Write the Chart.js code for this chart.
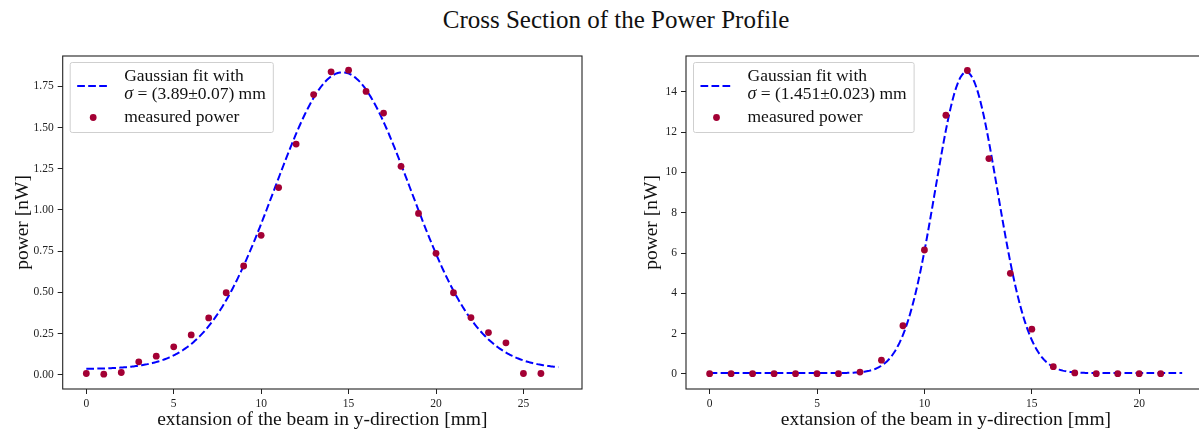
<!DOCTYPE html>
<html>
<head>
<meta charset="utf-8">
<script src="https://cdn.jsdelivr.net/npm/chart.js@4.4.0/dist/chart.umd.min.js"></script>
<style>
  html, body { margin: 0; padding: 0; background: #fff; overflow: hidden; }
  body { width: 1199px; height: 430px; position: relative; }
  #title { position: absolute; left: 0; width: 1232px; top: 7px; text-align: center;
           font: 25px/25px "Liberation Serif", serif; color: #111; }
  canvas { position: absolute; top: 0; }
  #leftChart { left: 0; }
  #rightChart { left: 629px; }
</style>
</head>
<body>
<div id="title">Cross Section of the Power Profile</div>
<canvas id="leftChart" width="620" height="430"></canvas>
<canvas id="rightChart" width="590" height="430"></canvas>
<script>
// measured power along y, first scan (wide beam)
const leftX = [0, 1, 2, 3, 4, 5, 6, 7, 8, 9, 10, 11, 12, 13, 14, 15, 16, 17, 18, 19, 20, 21, 22, 23, 24, 25, 26];
const leftPower = [0.008, 0.004, 0.014, 0.079, 0.113, 0.170, 0.242, 0.345, 0.498, 0.660, 0.846, 1.136, 1.400,
                   1.700, 1.838, 1.848, 1.719, 1.588, 1.265, 0.979, 0.737, 0.498, 0.347, 0.256, 0.194, 0.008, 0.008];
const leftXTicks = [0, 5, 10, 15, 20, 25];
const leftYTicks = [0, 0.25, 0.5, 0.75, 1.0, 1.25, 1.5, 1.75];
const leftFit = { amp: 1.80, mu: 14.65, sigma: 3.89, offset: 0.035, from: 0, to: 27 };
const leftFitLabel = ['Gaussian fit with', '(3.89\u00b10.07) mm'];

// second scan (focused beam)
const rightX = [0, 1, 2, 3, 4, 5, 6, 7, 8, 9, 10, 11, 12, 13, 14, 15, 16, 17, 18, 19, 20, 21];
const rightPower = [0.01, 0.01, 0.01, 0.01, 0.01, 0.01, 0.01, 0.09, 0.68, 2.39, 6.15, 12.84, 15.06,
                    10.69, 4.99, 2.22, 0.36, 0.05, 0.01, 0.01, 0.01, 0.01];
const rightXTicks = [0, 5, 10, 15, 20];
const rightYTicks = [0, 2, 4, 6, 8, 10, 12, 14];
const rightFit = { amp: 14.94, mu: 11.95, sigma: 1.451, offset: 0.04, from: 0, to: 22 };
const rightFitLabel = ['Gaussian fit with', '(1.451\u00b10.023) mm'];

const pointLabel = 'measured power';
const pointColor = '#a30034';
const fitColor = '#0000ff';
const serif = '"Liberation Serif", serif';

Chart.defaults.font.family = serif;
Chart.defaults.color = '#222';

function gaussian(p, x) {
  return p.offset + p.amp * Math.exp(-((x - p.mu) ** 2) / (2 * p.sigma * p.sigma));
}

function fitCurve(p) {
  const pts = [];
  for (let i = 0; i <= 400; i++) {
    const x = p.from + (p.to - p.from) * i / 400;
    pts.push({ x, y: gaussian(p, x) });
  }
  return pts;
}

// black box round the plot area
const frame = {
  id: 'frame',
  afterDatasetsDraw(chart) {
    const { ctx, chartArea: a } = chart;
    ctx.save();
    ctx.strokeStyle = '#222';
    ctx.lineWidth = 1.1;
    ctx.strokeRect(a.left, a.top, a.right - a.left, a.bottom - a.top);
    ctx.restore();
  }
};

// matplotlib-like legend: dashed fit line with two-line label, then the marker
const fitLegend = {
  id: 'fitLegend',
  afterDraw(chart, args, opts) {
    const { ctx, chartArea: a } = chart;
    const x0 = a.left + 7.5, y0 = a.top + 6.5;
    const textX = x0 + 54;
    ctx.save();
    ctx.font = '17.5px ' + serif;
    const w1 = ctx.measureText(opts.fit[0]).width;
    ctx.font = 'italic 18px ' + serif;
    const sigW = ctx.measureText('\u03c3').width;
    ctx.font = '17.5px ' + serif;
    const eqW = ctx.measureText(' = ').width;
    const w2 = sigW + eqW + ctx.measureText(opts.fit[1]).width;
    const w3 = ctx.measureText(opts.points).width;
    const boxW = textX - x0 + Math.max(w1, w2, w3) + 7.5;
    const boxH = 70;

    ctx.fillStyle = 'rgba(255,255,255,0.85)';
    ctx.strokeStyle = '#cfcfcf';
    ctx.lineWidth = 1;
    ctx.beginPath();
    ctx.roundRect(x0, y0, boxW, boxH, 2);
    ctx.fill();
    ctx.stroke();

    // handle for the fit line
    ctx.strokeStyle = fitColor;
    ctx.lineWidth = 2;
    ctx.setLineDash([7.7, 3.3]);
    ctx.beginPath();
    ctx.moveTo(x0 + 7, y0 + 23.5);
    ctx.lineTo(x0 + 39, y0 + 23.5);
    ctx.stroke();
    ctx.setLineDash([]);

    // handle for the points
    ctx.fillStyle = pointColor;
    ctx.beginPath();
    ctx.arc(x0 + 23, y0 + 55, 3.4, 0, Math.PI * 2);
    ctx.fill();

    ctx.fillStyle = '#111';
    ctx.textBaseline = 'middle';
    ctx.fillText(opts.fit[0], textX, y0 + 13.5);
    ctx.font = 'italic 18px ' + serif;
    ctx.fillText('\u03c3', textX, y0 + 32);
    ctx.font = '17.5px ' + serif;
    ctx.fillText(' = ' + opts.fit[1], textX + sigW, y0 + 32);
    ctx.fillText(opts.points, textX, y0 + 55);
    ctx.restore();
  }
};

function makeChart(id, c) {
  return new Chart(document.getElementById(id), {
    type: 'scatter',
    data: {
      datasets: [
        {
          label: pointLabel,
          data: c.x.map((x, i) => ({ x, y: c.y[i] })),
          backgroundColor: pointColor,
          borderWidth: 0,
          pointRadius: 3.4,
          order: 1
        },
        {
          label: 'Gaussian fit',
          data: fitCurve(c.fit),
          showLine: true,
          borderColor: fitColor,
          borderWidth: 2,
          borderDash: [7.7, 3.3],
          pointRadius: 0,
          order: 2
        }
      ]
    },
    options: {
      responsive: false,
      animation: false,
      events: [],
      layout: { padding: { left: 0, top: 56, right: c.padRight, bottom: 0 } },
      plugins: {
        legend: { display: false },
        tooltip: { enabled: false },
        fitLegend: { fit: c.fitLabel, points: pointLabel }
      },
      scales: {
        x: {
          type: 'linear',
          min: c.xMin,
          max: c.xMax,
          afterBuildTicks: s => { s.ticks = c.xTicks.map(v => ({ value: v })); },
          afterFit: s => { s.height = 41; },
          ticks: { font: { size: 11.5 }, color: '#222', padding: 3, maxRotation: 0, autoSkip: false },
          grid: { drawOnChartArea: false, tickLength: 5, color: '#222', lineWidth: 1 },
          border: { display: false },
          title: {
            display: true,
            text: 'extansion of the beam in y-direction [mm]',
            font: { size: 19.5, lineHeight: 1 },
            color: '#111',
            padding: { top: 0, bottom: 0.5 }
          }
        },
        y: {
          min: c.yMin,
          max: c.yMax,
          afterBuildTicks: s => { s.ticks = c.yTicks.map(v => ({ value: v })); },
          afterFit: s => { s.width = c.yAxisWidth; },
          ticks: { font: { size: 11.5 }, color: '#222', padding: 4, callback: v => v.toFixed(c.yDigits) },
          grid: { drawOnChartArea: false, tickLength: 5, color: '#222', lineWidth: 1 },
          border: { display: false },
          title: {
            display: true,
            text: 'power [nW]',
            font: { size: 19.5, lineHeight: 1 },
            color: '#111',
            padding: { top: 13, bottom: 0 }
          }
        }
      }
    },
    plugins: [frame, fitLegend]
  });
}

makeChart('leftChart', {
  x: leftX, y: leftPower, fit: leftFit, fitLabel: leftFitLabel,
  xMin: -1.35, xMax: 28.35, xTicks: leftXTicks,
  yMin: -0.086, yMax: 1.934, yTicks: leftYTicks, yDigits: 2,
  yAxisWidth: 62.7, padRight: 38
});

makeChart('rightChart', {
  x: rightX, y: rightPower, fit: rightFit, fitLabel: rightFitLabel,
  xMin: -1.1, xMax: 23.1, xTicks: rightXTicks,
  yMin: -0.75, yMax: 15.78, yTicks: rightYTicks, yDigits: 0,
  yAxisWidth: 57, padRight: 13.2
});
</script>
</body>
</html>
